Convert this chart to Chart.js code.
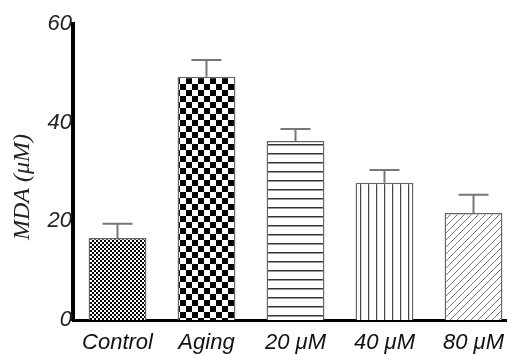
<!DOCTYPE html>
<html>
<head>
<meta charset="utf-8">
<script src="https://cdn.jsdelivr.net/npm/chart.js@4/dist/chart.umd.min.js"></script>
<style>
  html, body { margin: 0; padding: 0; overflow: hidden; background: #fff; }
  #wrap { width: 518px; height: 354px; }
</style>
</head>
<body>
<div id="wrap"><canvas id="mdaChart" width="518" height="354"></canvas></div>
<script>
// bar chart: MDA level per group, upward error bars only
const groups = ["Control", "Aging", "20 \u03bcM", "40 \u03bcM", "80 \u03bcM"];
const mdaMeans = [16.6, 49.3, 36.3, 27.8, 21.7];
const mdaErrors = [2.9, 3.4, 2.4, 2.6, 3.7];
const yTicks = [0, 20, 40, 60];
const yTitle = "MDA (\u03bcM)";

// build a fill pattern from a tiny drawing function
function makePattern(size, draw) {
  const c = document.createElement("canvas");
  c.width = size;
  c.height = size;
  const g = c.getContext("2d");
  g.fillStyle = "#fff";
  g.fillRect(0, 0, size, size);
  draw(g, size);
  return c.getContext("2d").createPattern(c, "repeat");
}

function checker(cell) {
  return makePattern(cell * 2, (g) => {
    g.fillStyle = "#000";
    g.fillRect(0, 0, cell, cell);
    g.fillRect(cell, cell, cell, cell);
  });
}

const fills = [
  checker(2),
  checker(6),
  makePattern(9, (g, s) => {
    g.fillStyle = "#333";
    g.fillRect(0, 0, s, 1.5);
  }),
  makePattern(8, (g, s) => {
    g.fillStyle = "#444";
    g.fillRect(0, 0, 1.2, s);
  }),
  makePattern(7, (g, s) => {
    g.strokeStyle = "#777";
    g.lineWidth = 1;
    g.beginPath();
    g.moveTo(0, s);
    g.lineTo(s, 0);
    g.moveTo(-1, 1);
    g.lineTo(1, -1);
    g.moveTo(s - 1, s + 1);
    g.lineTo(s + 1, s - 1);
    g.stroke();
  })
];

// upward error bars with caps
const errorBars = {
  id: "errorBars",
  afterDatasetsDraw(chart) {
    const ctx = chart.ctx;
    const meta = chart.getDatasetMeta(0);
    const y = chart.scales.y;
    ctx.save();
    ctx.strokeStyle = "#777";
    ctx.lineWidth = 2;
    meta.data.forEach((bar, i) => {
      const top = y.getPixelForValue(mdaMeans[i] + mdaErrors[i]);
      ctx.beginPath();
      ctx.moveTo(bar.x, bar.y);
      ctx.lineTo(bar.x, top);
      ctx.moveTo(bar.x - 15, top);
      ctx.lineTo(bar.x + 15, top);
      ctx.stroke();
    });
    ctx.restore();
  }
};

// y title sits a bit below the axis middle in the original
const yTitlePlugin = {
  id: "yTitlePlugin",
  afterDraw(chart) {
    const ctx = chart.ctx;
    ctx.save();
    ctx.translate(23, 187);
    ctx.rotate(-Math.PI / 2);
    ctx.font = "italic 24px 'Liberation Serif', 'Times New Roman', serif";
    ctx.fillStyle = "#222";
    ctx.textAlign = "center";
    ctx.textBaseline = "middle";
    ctx.fillText(yTitle, 0, 0);
    ctx.restore();
  }
};

new Chart(document.getElementById("mdaChart"), {
  type: "bar",
  data: {
    labels: groups,
    datasets: [
      {
        data: mdaMeans,
        backgroundColor: fills,
        borderColor: "#666",
        borderWidth: 1.5,
        borderSkipped: "bottom",
        barPercentage: 0.65,
        categoryPercentage: 1
      }
    ]
  },
  options: {
    responsive: false,
    animation: false,
    layout: { padding: { top: 24, right: 0, bottom: 0, left: 0 } },
    plugins: {
      legend: { display: false },
      tooltip: { enabled: false }
    },
    scales: {
      x: {
        grid: { display: false, drawTicks: false },
        border: { display: true, color: "#000", width: 3 },
        ticks: {
          color: "#111",
          padding: 10,
          font: { family: "'Liberation Sans', Arial, sans-serif", size: 22, style: "italic" }
        },
        afterFit(scale) { scale.height = 34; }
      },
      y: {
        min: 0,
        max: 60,
        afterBuildTicks(scale) { scale.ticks = yTicks.map(v => ({ value: v })); },
        grid: { display: false, drawTicks: false },
        border: { display: true, color: "#000", width: 4 },
        ticks: {
          color: "#222",
          padding: 1,
          font: { family: "'Liberation Sans', Arial, sans-serif", size: 22, style: "italic" }
        },
        afterFit(scale) { scale.width = 73; }
      }
    }
  },
  plugins: [errorBars, yTitlePlugin]
});
</script>
</body>
</html>
